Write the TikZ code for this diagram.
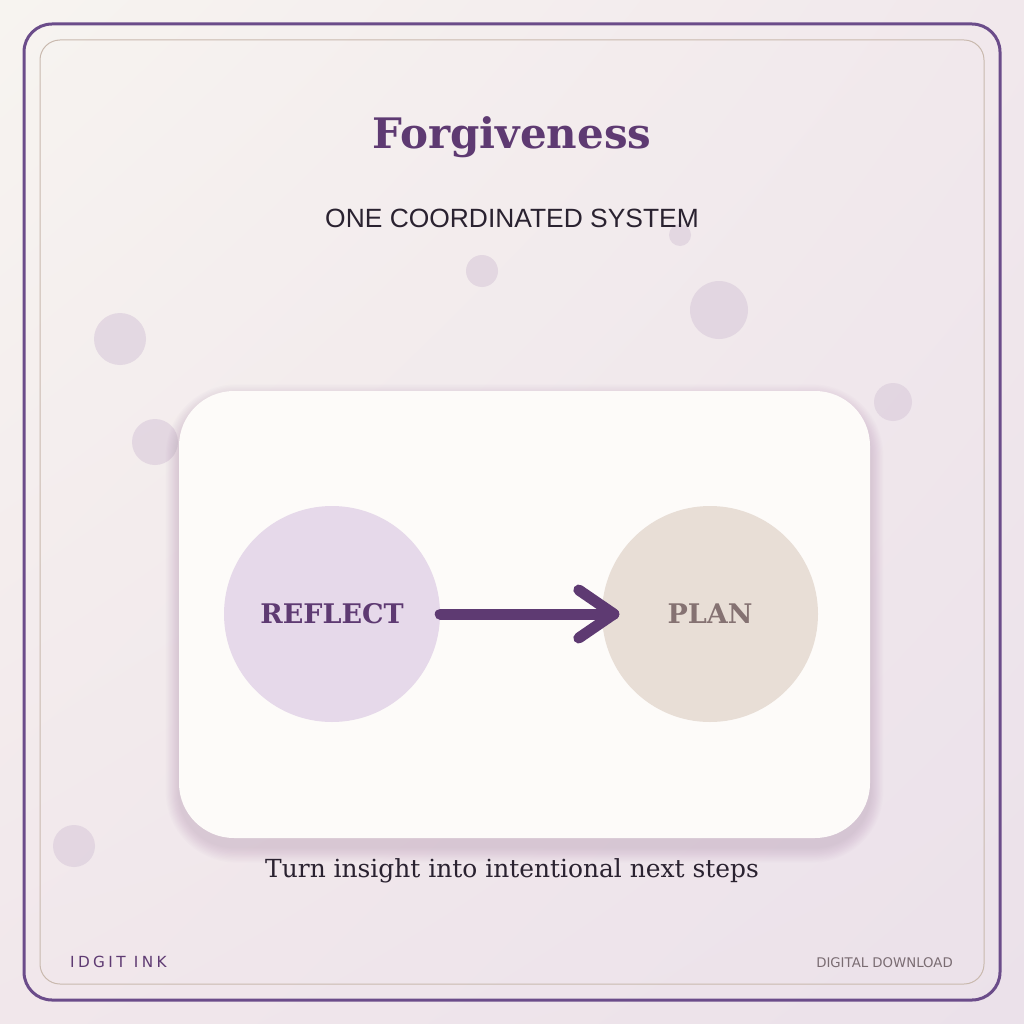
\documentclass[tikz,border=0pt]{standalone}
\usepackage{fontspec}
\setmainfont{DejaVu Serif}
\newfontfamily\dsans{DejaVu Sans}
\newfontfamily\lsans{Liberation Sans}
\newfontfamily\spacedsans[LetterSpace=22]{DejaVu Sans}
\usetikzlibrary{shadings}
\definecolor{plum}{HTML}{5E3A72}
\definecolor{frame}{HTML}{6B4C8A}
\definecolor{innerframe}{HTML}{C9B9AE}
\definecolor{bgtl}{HTML}{F7F4F0}
\definecolor{bgtr}{HTML}{F1E8EC}
\definecolor{bgbl}{HTML}{F1E7EB}
\definecolor{bgbr}{HTML}{EBE1EA}
\definecolor{dot}{HTML}{DDCFDD}
\definecolor{cardfill}{HTML}{FDFBF9}
\definecolor{reflectfill}{HTML}{E6D9EA}
\definecolor{planfill}{HTML}{E8DED6}
\definecolor{plantext}{HTML}{857272}
\definecolor{ink}{HTML}{2A2230}
\definecolor{graytext}{HTML}{7A6C72}
\definecolor{shadowc}{HTML}{8A6A9A}
\tikzset{
  deco/.style={circle, fill=dot, fill opacity=0.7, inner sep=0pt},
  stage/.style={circle, minimum size=216pt, inner sep=0pt, font=\bfseries\fontsize{27}{31}\selectfont},
  arrowline/.style={draw=plum, line width=11pt, line cap=round, line join=round},
}
\begin{document}
\begin{tikzpicture}[x=1pt, y=-1pt]
\useasboundingbox (0,0) rectangle (1024,1024);
\shade[upper left=bgtl, upper right=bgtr, lower left=bgbl, lower right=bgbr] (0,0) rectangle (1024,1024);
% frames
\draw[frame, line width=3pt, rounded corners=28pt] (24,24) rectangle (1000,1000);
\draw[innerframe, line width=1pt, rounded corners=20pt] (40,40) rectangle (984,984);
% decorative dots
\node[deco, minimum size=52pt] (d1) at (120,339) {};
\node[deco, minimum size=46pt] (d2) at (155,442) {};
\node[deco, minimum size=32pt] (d3) at (482,271) {};
\node[deco, minimum size=22pt] (d4) at (680,235) {};
\node[deco, minimum size=58pt] (d5) at (719,310) {};
\node[deco, minimum size=38pt] (d6) at (893,402) {};
\node[deco, minimum size=42pt] (d7) at (74,846) {};
% titles
\node[anchor=base, text=plum, font=\bfseries\fontsize{42}{50}\selectfont, inner sep=0pt] (title) at (512,149) {Forgiveness};
\node[anchor=base, text=ink, font=\lsans\fontsize{26.4}{30}\selectfont, inner sep=0pt] (sub) at (512,227) {ONE COORDINATED SYSTEM};
% card shadow (soft, layered)
\foreach \i in {1,...,12}{
  \fill[shadowc, opacity=0.02, rounded corners={55pt+1.3pt*\i}]
    ({179-1.1*\i},{400-1.3*\i}) rectangle ({870+1.1*\i},{847+1.3*\i});
}
% card
\node[fill=cardfill, rounded corners=55pt, minimum width=691pt, minimum height=447pt, inner sep=0pt] (card) at (524.5,614.5) {};
% stages
\node[stage, fill=reflectfill, text=plum] (r) at (332,614) {REFLECT};
\node[stage, fill=planfill, text=plantext] (p) at (710,614) {PLAN};
\coordinate (tip) at ([xshift=12pt]p.west);
\coordinate (barbup) at ([xshift=-35pt, yshift=24pt]tip);
\coordinate (barbdn) at ([xshift=-35pt, yshift=-24pt]tip);
\draw[arrowline] (r.east) -- (tip);
\draw[arrowline] (barbup) -- (tip) -- (barbdn);
% caption
\node[anchor=base, text=ink, font=\fontsize{24.9}{29}\selectfont, inner sep=0pt] (cap) at (512,877) {Turn insight into intentional next steps};
% footer
\node[anchor=base west, text=plum, font=\spacedsans\fontsize{15.3}{18}\selectfont, inner sep=0pt] (brand) at (70,967) {IDGIT INK};
\node[anchor=base east, text=graytext, font=\dsans\fontsize{13.3}{16}\selectfont, inner sep=0pt] (dl) at (953,967) {DIGITAL DOWNLOAD};
\end{tikzpicture}
\end{document}
